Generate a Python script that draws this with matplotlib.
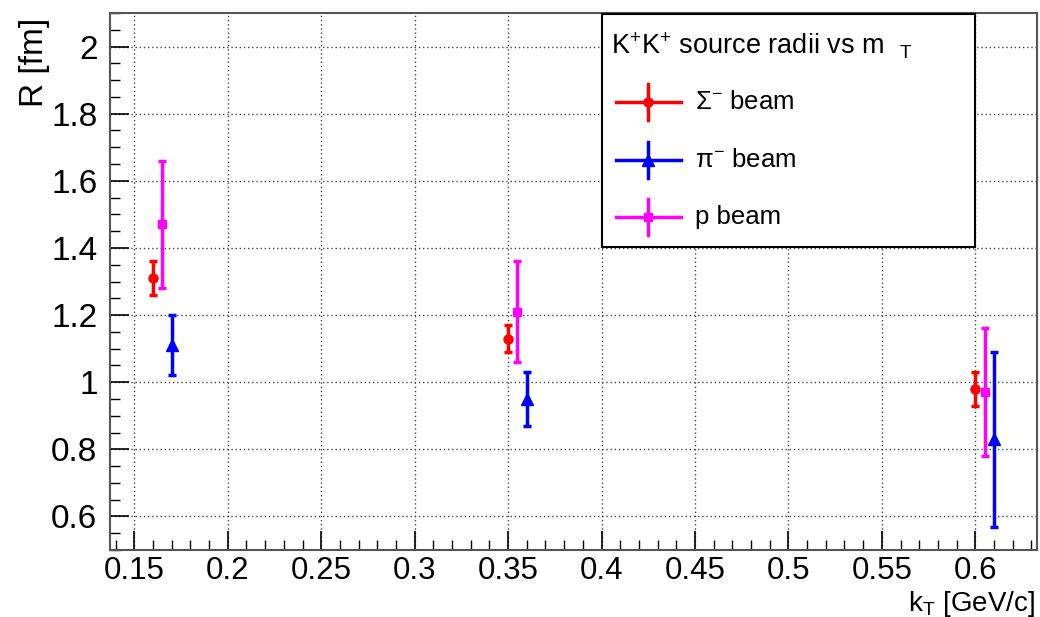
import matplotlib.pyplot as plt
from matplotlib.lines import Line2D
from matplotlib.patches import Rectangle

plt.rcParams['font.family'] = ['Liberation Sans', 'DejaVu Sans']
plt.rcParams['mathtext.fontset'] = 'custom'
plt.rcParams['mathtext.rm'] = 'Liberation Sans'
plt.rcParams['mathtext.it'] = 'Liberation Sans'
plt.rcParams['mathtext.default'] = 'regular'

# data
kt_sigma = [0.16, 0.35, 0.60]
r_sigma = [1.31, 1.13, 0.98]
err_sigma = [0.05, 0.04, 0.05]

kt_pi = [0.17, 0.36, 0.61]
r_pi = [1.11, 0.95, 0.83]
err_pi = [0.09, 0.08, 0.26]

kt_p = [0.165, 0.355, 0.605]
r_p = [1.47, 1.21, 0.97]
err_p = [0.19, 0.15, 0.19]

labels = [r'Σ$^{-}$ beam', r'π$^{-}$ beam', 'p beam']
colors = ['#ff0000', '#0000ff', '#ff00ff']
markers = ['o', '^', 's']
msizes = [6.5, 8, 6]

W, H = 1040, 617
fig = plt.figure(figsize=(W / 100, H / 100), dpi=100)
ax = fig.add_axes([110 / W, 1 - 550 / H, (1037 - 110) / W, (550 - 13) / H])

series = [(kt_sigma, r_sigma, err_sigma), (kt_pi, r_pi, err_pi), (kt_p, r_p, err_p)]
for (x, y, e), c, m, ms in zip(series, colors, markers, msizes):
    ax.errorbar(x, y, yerr=e, fmt=m, color=c, ms=ms, elinewidth=2.5,
                capsize=3, capthick=2.5, zorder=3)

ax.set_xlim(0.137, 0.633)
ax.set_ylim(0.5, 2.1)
ax.set_xticks([0.15, 0.2, 0.25, 0.3, 0.35, 0.4, 0.45, 0.5, 0.55, 0.6])
ax.set_xticklabels(['0.15', '0.2', '0.25', '0.3', '0.35', '0.4', '0.45', '0.5', '0.55', '0.6'])
ax.set_yticks([0.6, 0.8, 1.0, 1.2, 1.4, 1.6, 1.8, 2.0])
ax.set_yticklabels(['0.6', '0.8', '1', '1.2', '1.4', '1.6', '1.8', '2'])
ax.set_xticks([i / 100 for i in range(14, 64)], minor=True)
ax.set_yticks([0.5 + i * 0.05 for i in range(0, 33)], minor=True)
ax.tick_params(which='major', direction='in', length=14, width=1.2, labelsize=24, pad=9)
ax.tick_params(which='minor', direction='in', length=7, width=1.0)
ax.tick_params(axis='x', pad=4, labelsize=22.5)
ax.grid(True, which='major', linestyle=(0, (1, 2)), color='#444444', linewidth=1)
for s in ax.spines.values():
    s.set_color('#555555')
    s.set_linewidth(1.5)

fig.text(1035 / W, 1 - 604 / H, r'k$_{T}$ [GeV/c]', ha='right', va='center', fontsize=20)
fig.text(35 / W, 1 - 18 / H, 'R [fm]', ha='center', va='top', rotation=90, fontsize=24)

# legend box, ROOT style
def fx(px):
    return px / W


def fy(py):
    return 1 - py / H


fig.add_artist(Rectangle((fx(602), fy(247)), fx(975) - fx(602), fy(14) - fy(247),
                         transform=fig.transFigure, facecolor='white',
                         edgecolor='black', linewidth=1.5, zorder=5))
fig.text(fx(611), fy(46), r'K$^{+}$K$^{+}$ source radii vs m  $_{T}$', fontsize=19.5,
         va='center', ha='left', zorder=6)
rows = [102, 160, 217]
for yy, lab, c, m, ms in zip(rows, labels, colors, markers, msizes):
    fig.add_artist(Line2D([fx(616), fx(681)], [fy(yy), fy(yy)], color=c, lw=2.5,
                          transform=fig.transFigure, zorder=6))
    fig.add_artist(Line2D([fx(648), fx(648)], [fy(yy - 18), fy(yy + 18)], color=c, lw=2.5,
                          transform=fig.transFigure, zorder=6))
    fig.add_artist(Line2D([fx(648)], [fy(yy)], color=c, marker=m, ms=ms,
                          transform=fig.transFigure, zorder=7))
    fig.text(fx(695), fy(yy), lab, fontsize=18.5, va='center', ha='left', zorder=6)

fig.savefig('out.png', dpi=100)
